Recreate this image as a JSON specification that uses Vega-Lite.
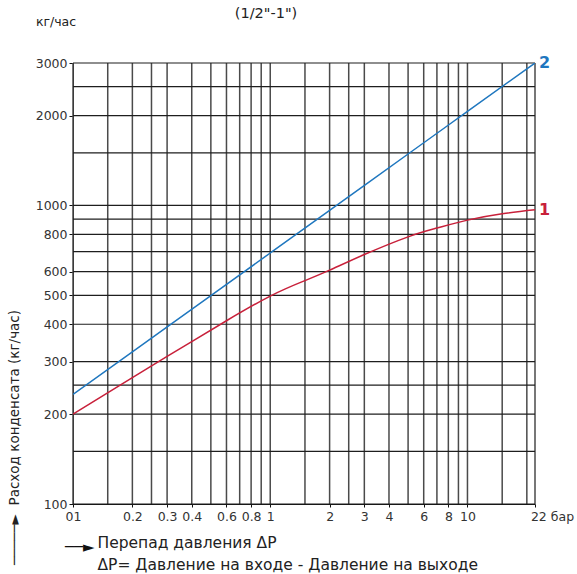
{
  "$schema": "https://vega.github.io/schema/vega-lite/v6.json",
  "width": 462,
  "height": 441,
  "autosize": {"type": "none"},
  "padding": {"left": 73, "top": 63, "right": 42, "bottom": 70},
  "background": "white",
  "config": {"font": "DejaVu Sans", "view": {"stroke": null}},
  "datasets": {
    "curves": [
      {"series": "2", "x": 0.1, "y": 233},
      {"series": "2", "x": 0.2, "y": 323},
      {"series": "2", "x": 0.5, "y": 499},
      {"series": "2", "x": 1, "y": 693},
      {"series": "2", "x": 2, "y": 963},
      {"series": "2", "x": 5, "y": 1487},
      {"series": "2", "x": 10, "y": 2065},
      {"series": "2", "x": 22, "y": 3000},
      {"series": "1", "x": 0.1, "y": 200},
      {"series": "1", "x": 0.2, "y": 265},
      {"series": "1", "x": 0.3, "y": 312},
      {"series": "1", "x": 0.4, "y": 350},
      {"series": "1", "x": 0.6, "y": 411},
      {"series": "1", "x": 1, "y": 497},
      {"series": "1", "x": 1.5, "y": 560},
      {"series": "1", "x": 2, "y": 607},
      {"series": "1", "x": 3, "y": 685},
      {"series": "1", "x": 5, "y": 785},
      {"series": "1", "x": 7, "y": 840},
      {"series": "1", "x": 10, "y": 893},
      {"series": "1", "x": 15, "y": 938},
      {"series": "1", "x": 22, "y": 967}
    ],
    "ends": [
      {"series": "2", "x": 22, "y": 3000},
      {"series": "1", "x": 22, "y": 967}
    ],
    "notes": [
      {"t": "кг/час", "kind": "unit"},
      {"t": "(1/2\"-1\")", "kind": "size"},
      {"t": "──►", "kind": "arrow"}
    ],
    "xgrid": [
      {"x": 0.1}, {"x": 0.15}, {"x": 0.2}, {"x": 0.25}, {"x": 0.3}, {"x": 0.4}, {"x": 0.5}, {"x": 0.6}, {"x": 0.7}, {"x": 0.8}, {"x": 0.9},
      {"x": 1}, {"x": 1.5}, {"x": 2}, {"x": 2.5}, {"x": 3}, {"x": 4}, {"x": 5}, {"x": 6}, {"x": 7}, {"x": 8}, {"x": 9},
      {"x": 10}, {"x": 15}, {"x": 20}, {"x": 22}
    ],
    "ygrid": [
      {"y": 100}, {"y": 150}, {"y": 200}, {"y": 250}, {"y": 300}, {"y": 400}, {"y": 500}, {"y": 600}, {"y": 700}, {"y": 800}, {"y": 900},
      {"y": 1000}, {"y": 1500}, {"y": 2000}, {"y": 2500}, {"y": 3000}
    ]
  },
  "layer": [
    {
      "data": {"name": "xgrid"},
      "mark": {"type": "rule", "color": "#4a4a4a", "strokeWidth": 1.5},
      "encoding": {
        "x": {"field": "x", "type": "quantitative", "scale": {"type": "log", "domain": [0.1, 22], "nice": false}}
      }
    },
    {
      "data": {"name": "ygrid"},
      "mark": {"type": "rule", "color": "#1e1e1e", "strokeWidth": 1.2},
      "encoding": {
        "y": {"field": "y", "type": "quantitative", "scale": {"type": "log", "domain": [100, 3000], "nice": false}}
      }
    },
    {
      "data": {"name": "curves"},
      "mark": {"type": "line", "strokeWidth": 1.5, "interpolate": "natural", "clip": true},
      "encoding": {
        "x": {
          "field": "x", "type": "quantitative",
          "scale": {"type": "log", "domain": [0.1, 22], "nice": false},
          "axis": {
            "values": [0.1, 0.2, 0.3, 0.4, 0.6, 0.8, 1, 2, 3, 4, 6, 8, 10, 22],
            "labelExpr": "datum.value == 0.1 ? '01' : datum.value == 22 ? '22 бар' : format(datum.value, '~g')",
            "labelOffset": {"condition": {"test": "datum.value == 22", "value": 17}, "value": 0},
            "grid": false, "ticks": true, "tickSize": 3, "tickColor": "#111", "domain": true, "domainColor": "#111",
            "labelFontSize": 12.5, "labelColor": "#333", "labelPadding": 3, "labelFlush": false, "labelOverlap": false,
            "title": ["Перепад давления ΔP", "ΔP= Давление на входе - Давление на выходе"],
            "titleAnchor": "start", "titleAlign": "left", "titleBaseline": "top",
            "titleX": 24, "titleY": 31, "titleFontSize": 15.5, "titleFontWeight": "normal", "titleColor": "#222", "titleLineHeight": 22
          }
        },
        "y": {
          "field": "y", "type": "quantitative",
          "scale": {"type": "log", "domain": [100, 3000], "nice": false},
          "axis": {
            "values": [100, 200, 300, 400, 500, 600, 800, 1000, 2000, 3000],
            "format": "d",
            "grid": false, "ticks": true, "tickSize": 4, "tickColor": "#111", "domain": true, "domainColor": "#111",
            "labelFontSize": 12.5, "labelColor": "#333", "labelPadding": 2,
            "title": "─────►\u00a0\u00a0Расход конденсата (кг/час)",
            "titleAngle": -90, "titleAlign": "center", "titleBaseline": "middle",
            "titleX": -59, "titleY": 374, "titleFontSize": 13.5, "titleFontWeight": "normal", "titleColor": "#222"
          }
        },
        "color": {"field": "series", "type": "nominal", "scale": {"domain": ["1", "2"], "range": ["#c8203a", "#1f77bf"]}, "legend": null}
      }
    },
    {
      "data": {"name": "ends"},
      "mark": {"type": "text", "align": "left", "baseline": "middle", "dx": 4, "fontSize": 16, "fontWeight": "bold"},
      "encoding": {
        "x": {"field": "x", "type": "quantitative"},
        "y": {"field": "y", "type": "quantitative"},
        "text": {"field": "series"},
        "color": {"field": "series", "type": "nominal", "legend": null}
      }
    },
    {
      "data": {"name": "notes"},
      "transform": [{"filter": "datum.kind == 'unit'"}],
      "mark": {"type": "text", "align": "center", "baseline": "middle", "dx": -17, "dy": -41, "fontSize": 12.5, "color": "#222"},
      "encoding": {
        "x": {"datum": 0.1},
        "y": {"datum": 3000},
        "text": {"field": "t"}
      }
    },
    {
      "data": {"name": "notes"},
      "transform": [{"filter": "datum.kind == 'size'"}],
      "mark": {"type": "text", "align": "center", "baseline": "middle", "dx": 193, "dy": -49, "fontSize": 14.5, "color": "#222"},
      "encoding": {
        "x": {"datum": 0.1},
        "y": {"datum": 3000},
        "text": {"field": "t"}
      }
    },
    {
      "data": {"name": "notes"},
      "transform": [{"filter": "datum.kind == 'arrow'"}],
      "mark": {"type": "text", "align": "left", "baseline": "middle", "dx": -8, "dy": 43, "fontSize": 15, "color": "#111"},
      "encoding": {
        "x": {"datum": 0.1},
        "y": {"datum": 100},
        "text": {"field": "t"}
      }
    }
  ]
}
